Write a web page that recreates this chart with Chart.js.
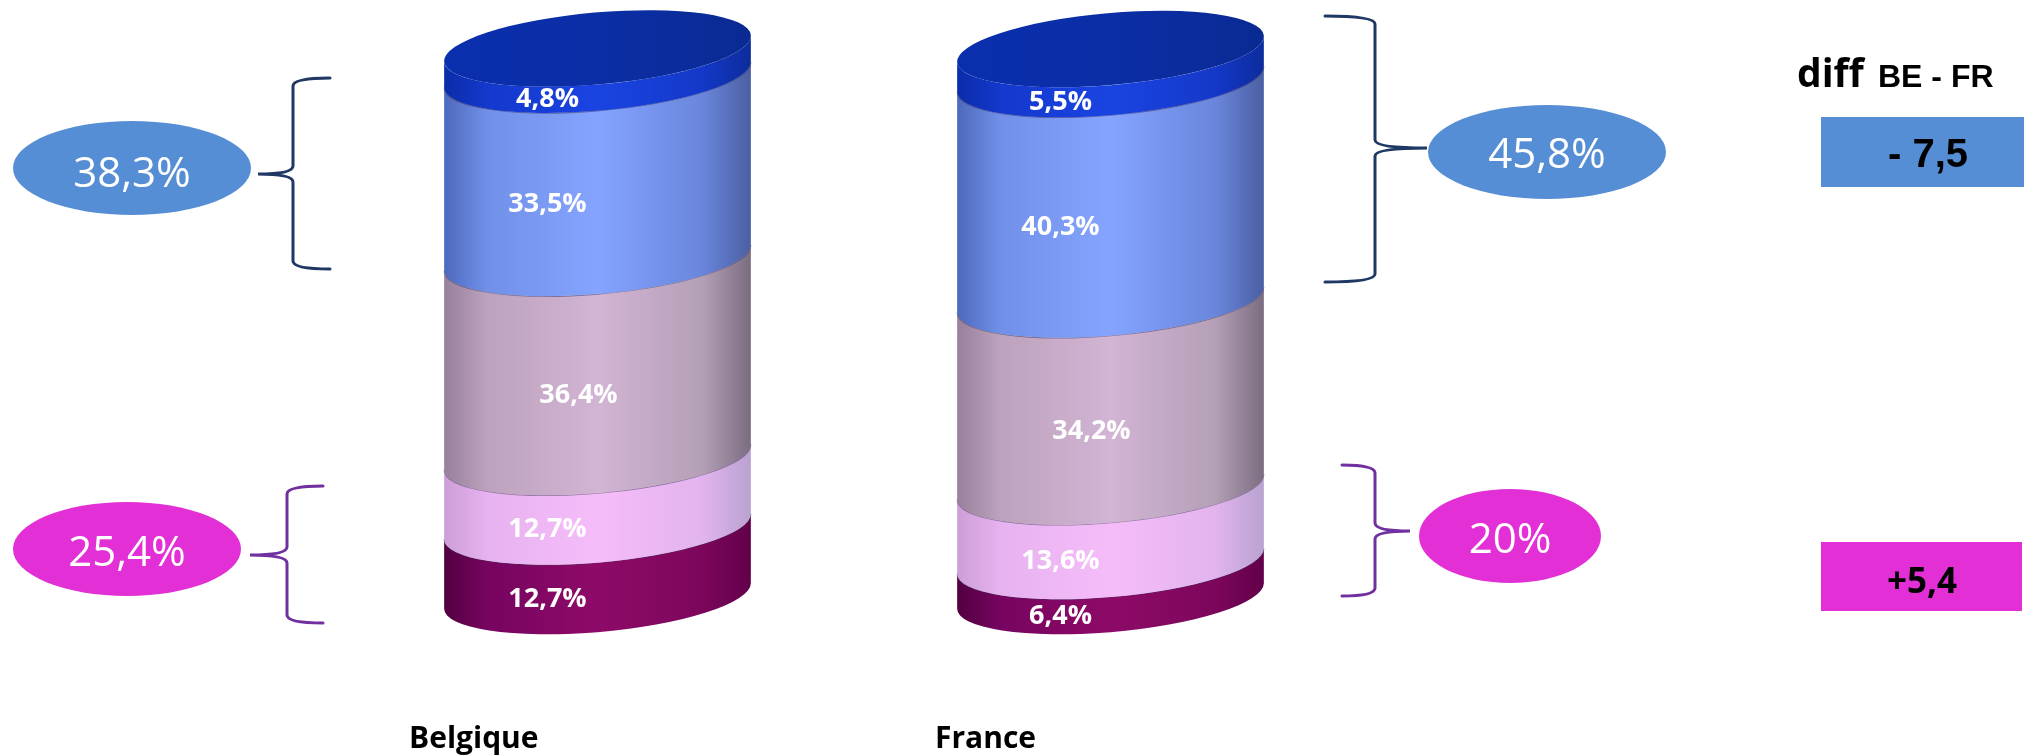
<!DOCTYPE html>
<html lang="fr">
<head>
<meta charset="utf-8">
<title>Belgique - France</title>
<script src="https://cdn.jsdelivr.net/npm/chart.js@4.4.1/dist/chart.umd.min.js"></script>
<style>
  html, body { margin: 0; padding: 0; background: #fff; }
  #wrap { position: relative; width: 2031px; height: 755px; }
</style>
</head>
<body>
<div id="wrap"><canvas id="cyl"></canvas></div>
<script>
// data (bottom -> top of each cylinder)
const countries = ['Belgique', 'France'];
const groupNames = ['Groupe 1', 'Groupe 2', 'Groupe 3', 'Groupe 4', 'Groupe 5'];
const darkPurple = [12.7, 6.4];
const lightPink = [12.7, 13.6];
const mauve = [36.4, 34.2];
const lightBlue = [33.5, 40.3];
const darkBlue = [4.8, 5.5];
const blueTotals = [38.3, 45.8];
const pinkTotals = [25.4, 20];
const diffLabels = ['- 7,5', '+5,4'];

// shading per layer: left edge, left mid, centre, right mid, right edge
const shades = [
    ['#520040', '#760460', '#8e0a68', '#7c065c', '#62004a'],
    ['#cc9ed6', '#e6b2ef', '#f6bcfa', '#e2b4ee', '#b8a2d0'],
    ['#98809a', '#bca2bc', '#d2b4d4', '#b4a0b6', '#7a6c80'],
    ['#4c68bc', '#7090e8', '#84a4ff', '#6a86dc', '#4a5fa2'],
    ['#0b2ca8', '#1438cc', '#1a44e2', '#1438c8', '#0c2c9c']
];
const labelShift = [-50, -50, -19, -50, -50];

const TILT = -5 * Math.PI / 180;
const RY = 36;

function fmtPct(v) {
    return (Number.isInteger(v) ? String(v) : v.toFixed(1).replace('.', ',')) + '%';
}

function sideGradient(ctx, cx, rx, cols) {
    const g = ctx.createLinearGradient(cx - rx, 0, cx + rx, 0);
    g.addColorStop(0, cols[0]);
    g.addColorStop(0.14, cols[1]);
    g.addColorStop(0.5, cols[2]);
    g.addColorStop(0.84, cols[3]);
    g.addColorStop(1, cols[4]);
    return g;
}

function drawBrace(ctx, xArm, xSpine, xTip, yTop, yTip, yBot, color) {
    const k = 8;
    ctx.save();
    ctx.strokeStyle = color;
    ctx.lineWidth = 3;
    ctx.lineCap = 'round';
    ctx.beginPath();
    ctx.moveTo(xArm, yTop);
    ctx.quadraticCurveTo(xSpine, yTop, xSpine, yTop + k);
    ctx.lineTo(xSpine, yTip - k);
    ctx.quadraticCurveTo(xSpine, yTip, xTip, yTip);
    ctx.quadraticCurveTo(xSpine, yTip, xSpine, yTip + k);
    ctx.lineTo(xSpine, yBot - k);
    ctx.quadraticCurveTo(xSpine, yBot, xArm, yBot);
    ctx.stroke();
    ctx.restore();
}

function drawBubble(ctx, cx, cy, rx, ry, color, text, baseline) {
    ctx.save();
    ctx.fillStyle = color;
    ctx.beginPath();
    ctx.ellipse(cx, cy, rx, ry, 0, 0, Math.PI * 2);
    ctx.fill();
    ctx.fillStyle = '#ffffff';
    ctx.font = '42px "Open Sans"';
    ctx.textAlign = 'center';
    ctx.textBaseline = 'alphabetic';
    ctx.fillText(text, cx, baseline);
    ctx.restore();
}

const cylinderPlugin = {
    id: 'cylinders',
    afterDatasetsDraw(chart) {
        const ctx = chart.ctx;
        const n = chart.data.datasets.length;
        chart.data.labels.forEach((lab, j) => {
            for (let i = 0; i < n; i++) {
                const el = chart.getDatasetMeta(i).data[j];
                const p = el.getProps(['x', 'y', 'base', 'width'], true);
                const rx = p.width / 2;
                const t0 = Math.atan2(-RY * Math.sin(TILT), rx * Math.cos(TILT));
                ctx.save();
                ctx.beginPath();
                ctx.ellipse(p.x, p.base, rx, RY, TILT, t0, t0 + Math.PI, false);
                ctx.ellipse(p.x, p.y, rx, RY, TILT, t0 + Math.PI, t0, true);
                ctx.closePath();
                ctx.fillStyle = sideGradient(ctx, p.x, rx, shades[i]);
                ctx.fill();
                if (i < n - 1) {
                    ctx.beginPath();
                    ctx.ellipse(p.x, p.y, rx, RY, TILT, t0, t0 + Math.PI, false);
                    ctx.strokeStyle = 'rgba(70,55,95,0.55)';
                    ctx.lineWidth = 1.2;
                    ctx.stroke();
                } else {
                    const g = ctx.createLinearGradient(p.x - rx, 0, p.x + rx, 0);
                    g.addColorStop(0, '#0a2fae');
                    g.addColorStop(0.5, '#0b2ea6');
                    g.addColorStop(1, '#0a2a92');
                    ctx.beginPath();
                    ctx.ellipse(p.x, p.y, rx, RY, TILT, 0, Math.PI * 2);
                    ctx.fillStyle = g;
                    ctx.fill();
                }
                ctx.restore();
            }
            // value labels
            for (let i = 0; i < n; i++) {
                const el = chart.getDatasetMeta(i).data[j];
                const p = el.getProps(['x', 'y', 'base'], true);
                const v = chart.data.datasets[i].data[j];
                ctx.save();
                ctx.fillStyle = '#ffffff';
                ctx.font = 'bold 27px "Open Sans"';
                ctx.textAlign = 'center';
                ctx.textBaseline = 'middle';
                ctx.fillText(fmtPct(v), p.x + labelShift[i], (p.y + p.base) / 2 + RY + 2);
                ctx.restore();
            }
        });
    },
    afterDraw(chart) {
        const ctx = chart.ctx;
        // category names
        ctx.save();
        ctx.fillStyle = '#000000';
        ctx.font = 'bold 30px "Open Sans"';
        ctx.textAlign = 'left';
        ctx.textBaseline = 'alphabetic';
        ctx.fillText(chart.data.labels[0], 409, 748);
        ctx.fillText(chart.data.labels[1], 935, 748);
        ctx.restore();

        // braces
        drawBrace(ctx, 330, 293, 258, 78, 174, 269, '#1f3864');
        drawBrace(ctx, 323, 287, 250, 486, 555, 623, '#7030a0');
        drawBrace(ctx, 1325, 1375, 1427, 16, 148, 282, '#1f3864');
        drawBrace(ctx, 1342, 1375, 1410, 465, 531, 596, '#7030a0');

        // bubbles
        drawBubble(ctx, 132, 168, 119, 47, '#558ed5', fmtPct(blueTotals[0]), 187);
        drawBubble(ctx, 127, 549, 114, 47, '#e22fd6', fmtPct(pinkTotals[0]), 566);
        drawBubble(ctx, 1547, 152, 119, 47, '#558ed5', fmtPct(blueTotals[1]), 168);
        drawBubble(ctx, 1510, 536, 91, 47, '#e22fd6', fmtPct(pinkTotals[1]), 553);

        // diff column
        ctx.save();
        ctx.fillStyle = '#000000';
        ctx.textBaseline = 'alphabetic';
        ctx.textAlign = 'left';
        ctx.font = 'bold 39px "Open Sans"';
        ctx.fillText('diff', 1797, 87);
        ctx.font = 'bold 32px "Liberation Sans"';
        ctx.fillText('BE - FR', 1878, 87);

        ctx.fillStyle = '#558ed5';
        ctx.fillRect(1821, 117, 203, 70);
        ctx.fillStyle = '#e22fd6';
        ctx.fillRect(1821, 542, 201, 69);

        ctx.fillStyle = '#000000';
        ctx.textAlign = 'center';
        ctx.font = 'bold 40px "Liberation Sans"';
        ctx.fillText(diffLabels[0], 1928, 167);
        ctx.font = 'bold 35px "Open Sans"';
        ctx.fillText(diffLabels[1], 1922, 593);
        ctx.restore();
    }
};

const layers = [darkPurple, lightPink, mauve, lightBlue, darkBlue];

new Chart(document.getElementById('cyl'), {
    type: 'bar',
    data: {
        labels: countries,
        datasets: layers.map((vals, i) => ({
            label: groupNames[i],
            data: vals,
            backgroundColor: 'rgba(0,0,0,0)',
            borderWidth: 0,
            barPercentage: 0.6,
            categoryPercentage: 1
        }))
    },
    options: {
        responsive: true,
        maintainAspectRatio: false,
        animation: false,
        layout: {
            padding: { top: 49, bottom: 159, left: 341, right: 664 }
        },
        plugins: {
            legend: { display: false },
            tooltip: { enabled: false },
            title: { display: false }
        },
        scales: {
            x: { stacked: true, display: false },
            y: { stacked: true, display: false, min: 0, max: 100 }
        }
    },
    plugins: [cylinderPlugin]
});
</script>
</body>
</html>
